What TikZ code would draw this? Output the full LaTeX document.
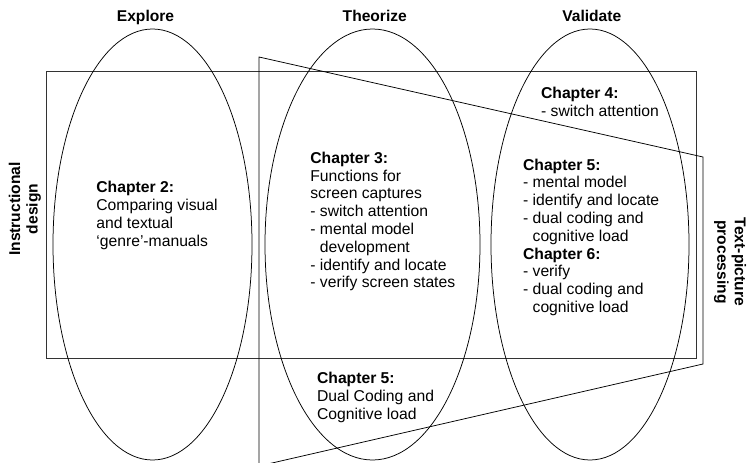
\documentclass[tikz,border=0pt]{standalone}
\usepackage{fontspec}
\setmainfont{Liberation Sans}
\usetikzlibrary{shapes.geometric}
\newcommand{\Ll}[1]{\hbox{#1}}
\newcommand{\Ind}{\phantom{-\ }}
\begin{document}
\begin{tikzpicture}[x=1pt,y=-1pt,line width=0.75pt,
  every node/.style={font=\fontsize{15.7}{17.8}\selectfont},
  phase/.style={draw, ellipse, inner sep=0pt, outer sep=0pt},
  title/.style={anchor=base, inner sep=0pt, font=\fontsize{15.6}{17.8}\selectfont\bfseries},
  txt/.style={anchor=base west, inner sep=0pt},
  side/.style={align=center, inner sep=0pt, font=\fontsize{15.6}{17.5}\selectfont\bfseries}]
\useasboundingbox (0,0) rectangle (748,463);
\clip (0,0) rectangle (748,463);
% frame of instructional design
\node[draw, draw=black!80, anchor=north west, minimum width=650pt, minimum height=287pt, inner sep=0pt, outer sep=0pt] (idbox) at (46,71) {};
% text-picture processing trapezoid
\coordinate (tA) at (259,57);
\coordinate (tB) at (703,157);
\coordinate (tC) at (703,364);
\coordinate (tD) at (259,466);
\draw (tA) -- (tB) -- (tC) -- (tD) -- cycle;
% phases
\node[phase, minimum width=199pt, minimum height=431pt] (explore) at (152.5,244.5) {};
\node[phase, minimum width=215pt, minimum height=431pt] (theorize) at (372.5,244.5) {};
\node[phase, minimum width=198pt, minimum height=431pt] (validate) at (590,244.5) {};
% titles
\node[title] (tExplore) at (145.5,21.5) {Explore};
\node[title] (tTheorize) at (374.8,21.5) {Theorize};
\node[title] (tValidate) at (591.8,21.5) {Validate};
% side labels
\node[side, rotate=90] (lID) at (25,209) {Instructional\\design};
\node[side, rotate=-90] (lTP) at (730,262) {Text-picture\\processing};
% chapter texts
\node[txt] (c2) at (96,192.7) {\vtop{\Ll{\bfseries Chapter 2:}\Ll{Comparing visual}\Ll{and textual}\Ll{‘genre’-manuals}}};
\node[txt] (c3) at (310,163.3) {\vtop{\Ll{\bfseries Chapter 3:}\Ll{Functions for}\Ll{screen captures}\Ll{- switch attention}\Ll{- mental model}\Ll{\Ind development}\Ll{- identify and locate}\Ll{- verify screen states}}};
\node[txt] (c4) at (540.7,98.5) {\vtop{\Ll{\bfseries Chapter 4:}\Ll{- switch attention}}};
\node[txt] (c56) at (522.7,170) {\vtop{\Ll{\bfseries Chapter 5:}\Ll{- mental model}\Ll{- identify and locate}\Ll{- dual coding and}\Ll{\Ind cognitive load}\Ll{\bfseries Chapter 6:}\Ll{- verify}\Ll{- dual coding and}\Ll{\Ind cognitive load}}};
\node[txt] (c5b) at (316.7,383.5) {\vtop{\Ll{\bfseries Chapter 5:}\Ll{Dual Coding and}\Ll{Cognitive load}}};
\end{tikzpicture}
\end{document}
